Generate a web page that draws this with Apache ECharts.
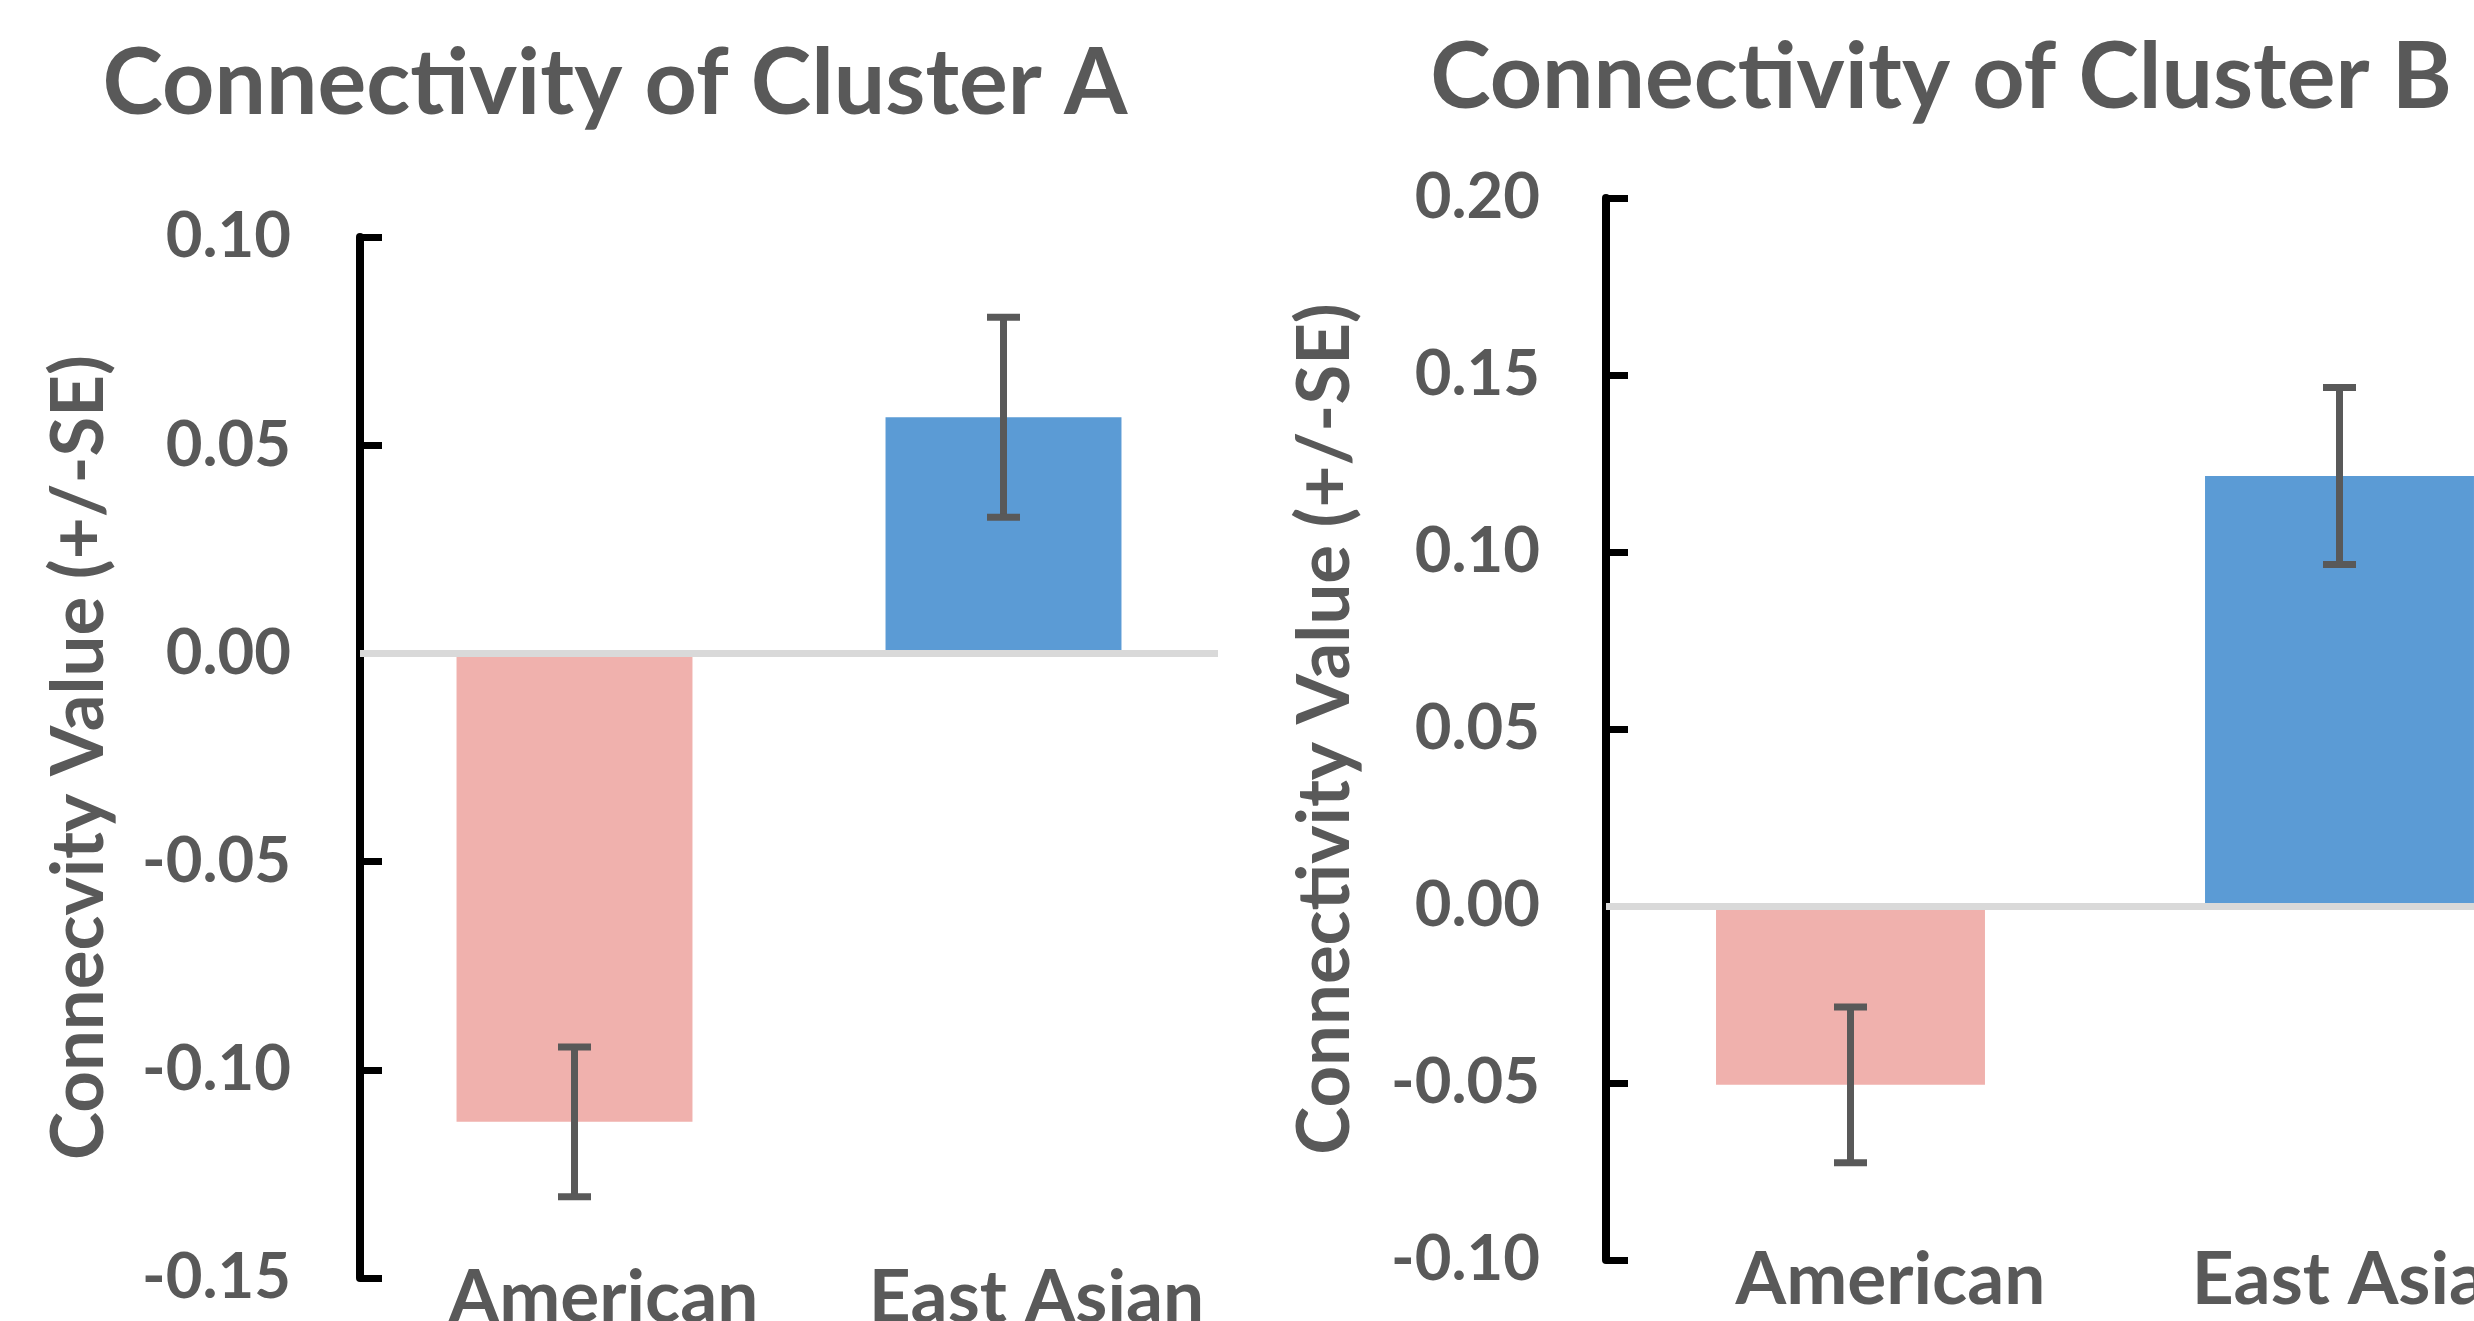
<!DOCTYPE html>
<html>
<head>
<meta charset="utf-8">
<script src="https://cdn.jsdelivr.net/npm/echarts@6/dist/echarts.min.js"></script>
<style>
html,body{margin:0;padding:0;background:#fff;}
#c{width:2474px;height:1321px;}
</style>
</head>
<body>
<div id="c"></div>
<script>
// ---- data ----
const categories = ['American', 'East Asian'];
const titleA = 'Connectivity of Cluster A';
const titleB = 'Connectivity of Cluster B';
const yNameA = 'Connecvity Value (+/-SE)';
const yNameB = 'Connectivity Value (+/-SE)';
const valuesA = [-0.1125, 0.0567];
const errorsA = [0.018, 0.024];
const valuesB = [-0.0505, 0.1215];
const errorsB = [0.022, 0.025];
const yTicksA = [-0.15, -0.10, -0.05, 0.00, 0.05, 0.10];
const yTicksB = [-0.10, -0.05, 0.00, 0.05, 0.10, 0.15, 0.20];

// ---- style ----
const FONT = 'Lato';
const TEXT = '#595959';
const barColors = ['#F0B1AD', '#5B9BD5'];
const ctx = document.createElement('canvas').getContext('2d');
function fitSize(text, target) {
  ctx.font = 'bold 100px ' + FONT;
  return 100 * target / ctx.measureText(text).width;
}
const titleSize = fitSize(titleA, 1025);
const tickSize = fitSize('-0.15', 149);
const catSize = fitSize('American', 310);
const nameSize = fitSize(yNameA, 805);

const panels = [
  { grid: { left: 360, top: 237, width: 858, height: 1041 }, ticks: yTicksA, values: valuesA, errors: errorsA,
    title: titleA, titleX: 615, titleY: 85, name: yNameA, labelMargin: 69, catShift: [29, 33] },
  { grid: { left: 1606, top: 198, width: 978, height: 1062 }, ticks: yTicksB, values: valuesB, errors: errorsB,
    title: titleB, titleX: 1941, titleY: 79, name: yNameB, labelMargin: 66, catShift: [40, 20] }
];

const fmt = v => (Math.abs(v) < 1e-9 ? 0 : v).toFixed(2);
const r2 = v => Math.round(v * 100) / 100;
const catFont = { fontSize: catSize, fontWeight: 'bold', fontFamily: FONT, color: TEXT };

const option = {
  animation: false,
  backgroundColor: '#fff',
  grid: panels.map(p => Object.assign({ containLabel: false, outerBoundsMode: 'none' }, p.grid)),
  xAxis: panels.map((p, i) => ({
    type: 'category', gridIndex: i, data: categories,
    axisLine: { show: false, onZero: false }, axisTick: { show: false },
    axisLabel: Object.assign({}, catFont, {
      margin: -16, interval: 0, hideOverlap: false,
      formatter: (v, k) => '{c' + k + '|' + v + '}',
      rich: {
        c0: Object.assign({}, catFont, { padding: [0, 0, 0, 2 * p.catShift[0]] }),
        c1: Object.assign({}, catFont, { padding: [0, 0, 0, 2 * p.catShift[1]] })
      }
    })
  })),
  yAxis: panels.map((p, i) => ({
    type: 'value', gridIndex: i,
    min: p.ticks[0], max: p.ticks[p.ticks.length - 1], interval: r2(p.ticks[1] - p.ticks[0]),
    axisLine: { show: true, onZero: false, lineStyle: { color: '#000', width: 8 } },
    axisTick: { show: true, inside: true, length: 22, lineStyle: { color: '#000', width: 7 } },
    splitLine: { show: false },
    axisLabel: { formatter: fmt, fontSize: tickSize, fontWeight: 'bold', fontFamily: FONT, color: TEXT, margin: p.labelMargin },
    name: p.name, nameLocation: 'middle', nameRotate: 90, nameGap: 244,
    nameTextStyle: { fontSize: nameSize, fontWeight: 'bold', fontFamily: FONT, color: TEXT }
  })),
  graphic: panels.map(p => ({
    type: 'text', x: p.titleX, y: p.titleY,
    style: { text: p.title, fontSize: titleSize, fontWeight: 'bold', fontFamily: FONT, fill: TEXT, align: 'center', verticalAlign: 'middle' }
  })),
  series: []
};

panels.forEach((p, i) => {
  option.series.push({
    type: 'bar', xAxisIndex: i, yAxisIndex: i, barCategoryGap: '45%',
    data: p.values.map((v, k) => ({ value: v, itemStyle: { color: barColors[k] } })),
    markLine: {
      silent: true, symbol: ['none', 'none'], label: { show: false },
      lineStyle: { color: '#D9D9D9', width: 7, type: 'solid' },
      data: [{ yAxis: 0 }]
    }
  });
  option.series.push({
    type: 'custom', xAxisIndex: i, yAxisIndex: i, z: 10,
    data: p.values.map((v, k) => [k, v - p.errors[k], v + p.errors[k]]),
    encode: { x: 0, y: [1, 2] },
    renderItem: (params, api) => {
      const hi = api.coord([api.value(0), api.value(2)]);
      const lo = api.coord([api.value(0), api.value(1)]);
      const w = 16.5;
      const style = { stroke: '#595959', lineWidth: 7 };
      return { type: 'group', children: [
        { type: 'line', shape: { x1: hi[0], y1: hi[1], x2: lo[0], y2: lo[1] }, style },
        { type: 'line', shape: { x1: hi[0] - w, y1: hi[1], x2: hi[0] + w, y2: hi[1] }, style },
        { type: 'line', shape: { x1: lo[0] - w, y1: lo[1], x2: lo[0] + w, y2: lo[1] }, style }
      ] };
    }
  });
});

const chart = echarts.init(document.getElementById('c'), null, { renderer: 'canvas' });
chart.setOption(option);
</script>
</body>
</html>
